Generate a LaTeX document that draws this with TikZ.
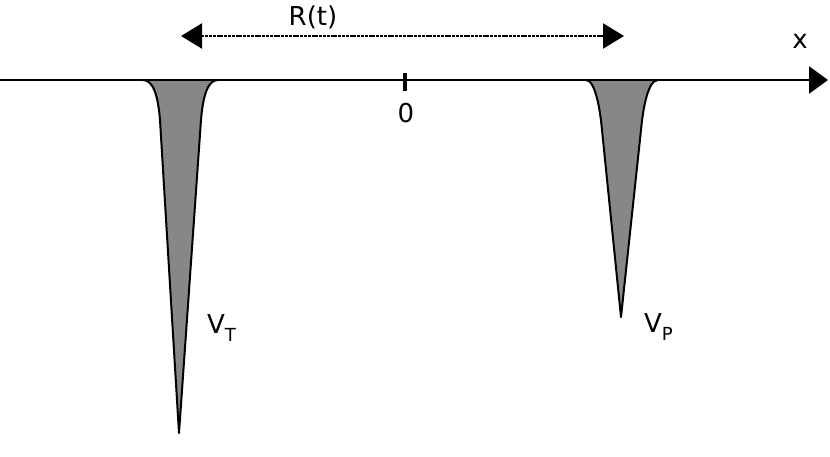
\documentclass[tikz,border=0pt]{standalone}
\usepackage{fontspec}
\setmainfont{DejaVu Sans}
\usetikzlibrary{arrows.meta}
\newcommand{\lbl}[2]{#1\raisebox{-0.3em}{\fontsize{18}{18}\selectfont #2}}
\begin{document}
\begin{tikzpicture}[x=1pt,y=-1pt,
  axisline/.style={line width=2.6pt,-{Triangle[length=19pt,width=27pt]}},
  distline/.style={line width=2.2pt,dash pattern=on 3pt off 0.8pt,{Triangle[length=21pt,width=25pt]}-{Triangle[length=21pt,width=25pt]}},
  well/.style={fill=black!47,draw=black,line width=2pt,line join=round},
  txt/.style={inner sep=0pt,font=\fontsize{26}{29}\selectfont}]
\useasboundingbox (0,0) rectangle (830,457);
% wells
\path[well] (143,80) .. controls (153,80) and (158,95) .. (160,120) -- (179,433)
  -- (201,120) .. controls (203,95) and (208,80) .. (218,80);
\path[well] (586,80) .. controls (595,80) and (600,108) .. (602,130) -- (621,317)
  -- (641,130) .. controls (643,108) and (648,80) .. (658,80);
% axis
\coordinate (axL) at (0,80);
\coordinate (axR) at (828,80);
\draw[axisline] (axL) -- (axR);
% tick
\coordinate (tkT) at (405,73);
\coordinate (tkB) at (405,91);
\draw[line width=4.5pt] (tkT) -- (tkB);
% distance arrow
\coordinate (dL) at (181,36);
\coordinate (dR) at (624,36);
\draw[distline] (dL) -- (dR);
% labels
\node[txt] (rt) at (313,17) {R(t)};
\node[txt] (xl) at (800,41) {x};
\node[txt] (zero) at (406,113) {0};
\node[txt,anchor=west] (vt) at (207,328) {\lbl{V}{T}};
\node[txt,anchor=west] (vp) at (644,327) {\lbl{V}{P}};
\end{tikzpicture}
\end{document}
